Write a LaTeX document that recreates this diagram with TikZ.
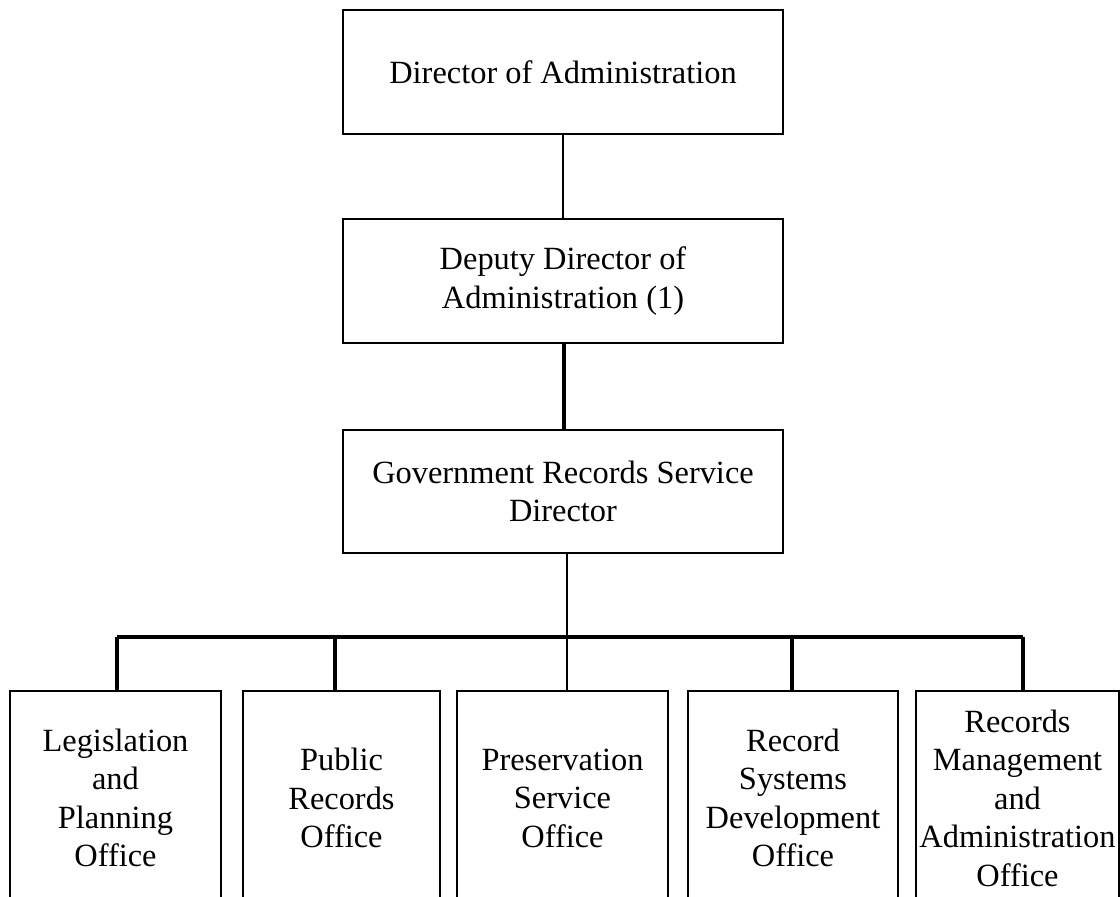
\documentclass[tikz,border=0pt]{standalone}
\usepackage{fontspec}
\setmainfont{Liberation Serif}
\begin{document}
\begin{tikzpicture}[x=1pt,y=-1pt,
  box/.style={draw=black,line width=1.8pt,rectangle,inner sep=0pt,align=center,
    font=\fontsize{32.4}{38.5}\selectfont},
  topbox/.style={box,minimum width=440pt,minimum height=124pt},
  unitbox/.style={box,minimum height=214pt},
  thinlink/.style={line width=1.8pt},
  thicklink/.style={line width=3.4pt}]
\useasboundingbox (0,0) rectangle (1120,897);
\clip (0,0) rectangle (1120,897);

% upper chain of command
\node[topbox] (dir) at (563,72) {Director of Administration};
\node[topbox] (dep) at (563,281) {Deputy Director of\\Administration (1)};
\node[topbox,minimum height=123pt] (grs) at (563,491.5) {Government Records Service\\Director};

% offices
\node[unitbox,minimum width=211pt] (b1) at (115.5,798) {Legislation\\and\\Planning\\Office};
\node[unitbox,minimum width=197pt] (b2) at (341.5,798) {Public\\Records\\Office};
\node[unitbox,minimum width=211pt] (b3) at (562.5,798) {Preservation\\Service\\Office};
\node[unitbox,minimum width=210pt] (b4) at (793,798) {Record\\Systems\\Development\\Office};
\node[unitbox,minimum width=203pt] (b5) at (1017.5,798) {Records\\Management\\and\\Administration\\Office};

% junctions on the distribution bar
\coordinate (j1) at (117,637);
\coordinate (j2) at (335,637);
\coordinate (j3) at (567,637);
\coordinate (j4) at (792,637);
\coordinate (j5) at (1023,637);

% links
\draw[thinlink] (dir.south) -- (dep.north);
\draw[thicklink] ([xshift=1pt]dep.south) -- ([xshift=1pt]grs.north);
\draw[thinlink] (grs.south -| j3) -- (j3 |- b3.north);
\draw[thicklink] (j1) -- (j5);
\draw[thicklink] (j1) -- (j1 |- b1.north);
\draw[thicklink] (j2) -- (j2 |- b2.north);
\draw[thicklink] (j4) -- (j4 |- b4.north);
\draw[thicklink] (j5) -- (j5 |- b5.north);
\end{tikzpicture}
\end{document}
